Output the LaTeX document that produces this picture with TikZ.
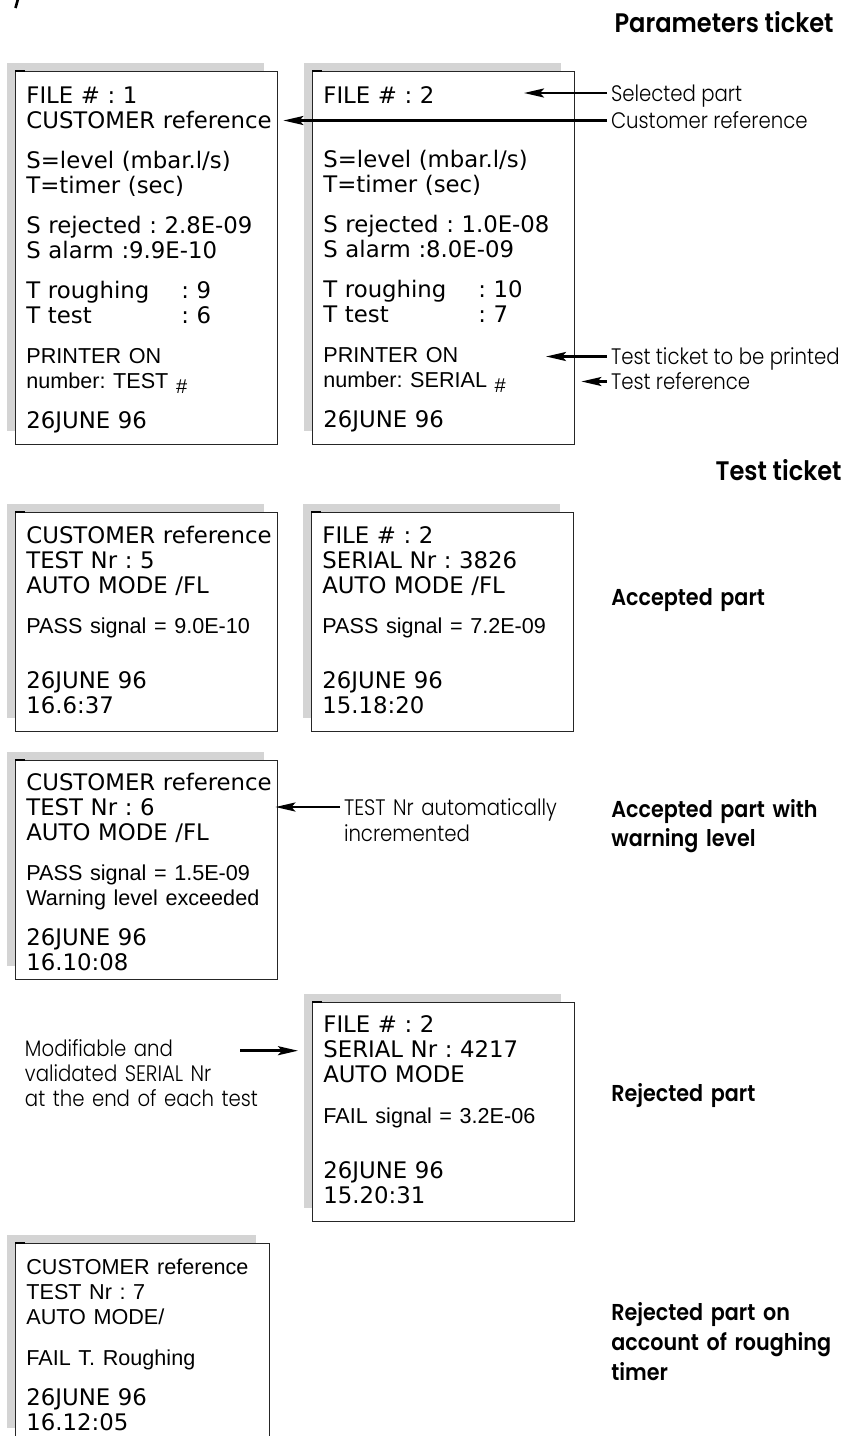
\documentclass[tikz,border=0pt]{standalone}
\usepackage{fontspec}
\setmainfont{DejaVu Sans}
\newfontfamily\genevafont{DejaVu Sans}
\newfontfamily\helvfont{Liberation Sans}
\newfontfamily\notefamily{Poppins Light}[FakeStretch=0.88]
\newfontfamily\headfamily{Poppins SemiBold}[FakeStretch=0.9]
\usetikzlibrary{arrows.meta,calc,backgrounds}
\frenchspacing

% printer fonts and small helpers
\newcommand{\geneva}{\genevafont\fontsize{11.4}{12.5}\selectfont}
\newcommand{\helv}{\helvfont\fontsize{10.8}{12.5}\selectfont}
\newcommand{\lowhash}{\raisebox{-2.5pt}{\fontsize{10}{12}\selectfont\#}}
\newcommand{\colto}[1]{\makebox[77.5pt][l]{#1}}

\tikzset{
  ticket/.style={draw=black!85, line width=0.7pt, fill=white, anchor=north west,
    inner sep=0pt, minimum width=131pt},
  tickettext/.style={anchor=base west, inner sep=0pt, text width=125pt,
    align=left, font=\geneva},
  shade/.style={fill=black!17},
  note/.style={font=\notefamily\fontsize{11.2}{13}\selectfont, inner sep=0pt,
    outer sep=2pt, anchor=west, text height=8pt, text depth=0pt},
  case/.style={font=\headfamily\fontsize{11.5}{14.5}\selectfont, anchor=base west,
    inner sep=0pt, text width=125pt, align=left},
  head/.style={font=\headfamily\fontsize{13.4}{15}\selectfont, anchor=base east, inner sep=0pt},
  pointer/.style={-{Stealth[length=10pt, width=4.5pt, inset=2pt]}, line width=1.3pt},
}

\begin{document}
\begin{tikzpicture}[x=0.5pt, y=-0.5pt]
  \useasboundingbox (0,0) rectangle (848,1436);

  % cut-off glyph at the page edge
  \draw[line width=1.3pt] (18,-1) -- (15.5,8);

  % headings
  \node[head] (paramHead) at (834,32.3) {Parameters ticket};
  \node[head] (testHead) at (842,480.7) {Test ticket};

  % ticket frames
  \node[ticket, minimum height=186.5pt] (parA) at (15,71) {};
  \node[ticket, minimum height=186.5pt] (parB) at (312,71) {};
  \node[ticket, minimum height=109.5pt] (passA) at (15,512) {};
  \node[ticket, minimum height=109.5pt] (passB) at (311,512) {};
  \node[ticket, minimum height=109.5pt] (warn) at (15,760) {};
  \node[ticket, minimum height=109.5pt] (failA) at (312,1002) {};
  \node[ticket, minimum height=99pt, minimum width=127pt] (failB) at (15,1243) {};

  % grey shadow and corner mark of every ticket
  \begin{scope}[on background layer]
    \foreach \t in {parA,parB,passA,passB,warn,failA,failB}
      \fill[shade] ($(\t.north west)+(-8,-8)$) rectangle ($(\t.south east)+(-14,-14)$);
  \end{scope}
  \foreach \t in {parA,parB,passA,passB,warn,failA,failB}
    \draw[line width=1.1pt] (\t.north west) -- ++(10,0);

  % printed lines
  \node[tickettext] (parAtxt) at ($(parA.north west)+(11,32)$) {%
    FILE \# : 1\\
    CUSTOMER reference\\[7.5pt]
    S=level (mbar.l/s)\\
    T=timer (sec)\\[7.5pt]
    S rejected : 2.8E-09\\
    S alarm :9.9E-10\\[7.5pt]
    \colto{T roughing}: 9\\
    \colto{T test}: 6\\[7.5pt]
    {\helv PRINTER ON}\\
    {\helv number: TEST \lowhash}\\[7.5pt]
    26JUNE 96};
  \node[tickettext] (parBtxt) at ($(parB.north west)+(11,32)$) {%
    FILE \# : 2\\[19.5pt]
    S=level (mbar.l/s)\\
    T=timer (sec)\\[7.5pt]
    S rejected : 1.0E-08\\
    S alarm :8.0E-09\\[7.5pt]
    \colto{T roughing}: 10\\
    \colto{T test}: 7\\[7.5pt]
    {\helv PRINTER ON}\\
    {\helv number: SERIAL \lowhash}\\[7.5pt]
    26JUNE 96};
  \node[tickettext] (passAtxt) at ($(passA.north west)+(11,31)$) {%
    CUSTOMER reference\\
    TEST Nr : 5\\
    AUTO MODE /FL\\[7.5pt]
    {\helv PASS signal = 9.0E-10}\\[15pt]
    26JUNE 96\\
    16.6:37};
  \node[tickettext] (passBtxt) at ($(passB.north west)+(11,31)$) {%
    FILE \# : 2\\
    SERIAL Nr : 3826\\
    AUTO MODE /FL\\[7.5pt]
    {\helv PASS signal = 7.2E-09}\\[15pt]
    26JUNE 96\\
    15.18:20};
  \node[tickettext] (warntxt) at ($(warn.north west)+(11,30)$) {%
    CUSTOMER reference\\
    TEST Nr : 6\\
    AUTO MODE /FL\\[7.5pt]
    {\helv PASS signal = 1.5E-09}\\
    {\helv Warning level exceeded}\\[7.5pt]
    26JUNE 96\\
    16.10:08};
  \node[tickettext] (failAtxt) at ($(failA.north west)+(11,30)$) {%
    FILE \# : 2\\
    SERIAL Nr : 4217\\
    AUTO MODE\\[8pt]
    {\helv FAIL signal = 3.2E-06}\\[15pt]
    26JUNE 96\\
    15.20:31};
  \node[tickettext] (failBtxt) at ($(failB.north west)+(11,31)$) {%
    {\helv CUSTOMER reference}\\
    {\helv TEST Nr : 7}\\
    {\helv AUTO MODE/}\\[8pt]
    {\helv FAIL T. Roughing}\\[7.5pt]
    26JUNE 96\\
    16.12:05};

  % remarks
  \node[note] (selnote) at (607,93) {Selected part};
  \node[note] (custnote) at (607,120.5) {Customer reference};
  \node[note] (printnote) at (607,356.5) {Test ticket to be printed};
  \node[note] (refnote) at (607,381.5) {Test reference};
  \node[note, text width=125pt, align=left] (tnnote) at (340,807)
    {TEST Nr automatically\\incremented};
  \node[note, anchor=base west, text width=125pt, align=left,
    font=\notefamily\fontsize{11.2}{12.5}\selectfont] (modnote) at (21,1056.7)
    {Modifiable and\\validated SERIAL Nr\\at the end of each test};

  % what each ticket shows
  \node[case] (accLabel) at (611,605) {Accepted part};
  \node[case] (warnLabel) at (611,817.3) {Accepted part with\\warning level};
  \node[case] (rejLabel) at (611,1101.7) {Rejected part};
  \node[case, font=\headfamily\fontsize{11.5}{15}\selectfont] (roughLabel) at (611,1320)
    {Rejected part on\\account of roughing\\timer};

  % arrow ends
  \coordinate (selTip) at (524,93);
  \coordinate (printTip) at (546,356.5);
  \coordinate (modStart) at (240,1050.7);

  \draw[pointer] (selnote.west) -- (selTip);
  \draw[pointer, shorten >=2.5pt] (custnote.west) -- (custnote.west -| parA.east);
  \draw[pointer] (printnote.west) -- (printTip);
  \draw[pointer, shorten >=3pt] (refnote.west) -- (refnote.west -| parB.east);
  \draw[pointer, shorten >=-1.5pt] (tnnote.west) -- (tnnote.west -| warn.east);
  \draw[pointer, shorten >=7pt] (modStart) -- (modStart -| failA.west);
\end{tikzpicture}
\end{document}
